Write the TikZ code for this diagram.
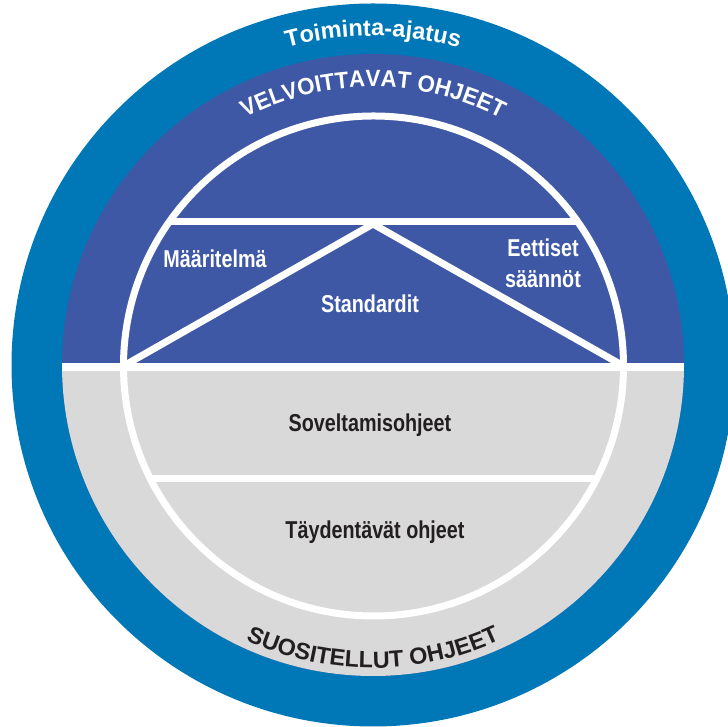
\documentclass[tikz,border=0pt]{standalone}
\usepackage{fontspec}
\newfontfamily\labfont{Liberation Sans}[FakeStretch=0.81]
\newfontfamily\arcfont{Liberation Sans}
\newfontfamily\arcnarrow{Liberation Sans}[FakeStretch=0.95]
\usetikzlibrary{decorations.text}
\definecolor{ringblue}{RGB}{0,120,183}
\definecolor{velpurple}{RGB}{62,88,166}
\definecolor{suogray}{RGB}{217,217,217}
\definecolor{darktext}{RGB}{35,31,32}
\begin{document}
\begin{tikzpicture}[x=1pt,y=1pt,
  lab/.style={font=\labfont\bfseries\fontsize{24.4}{31}\selectfont, inner sep=0pt, anchor=base, align=center},
  sepline/.style={draw=white, line width=7pt},
]
\useasboundingbox (0,0) rectangle (728,727);
\coordinate (C) at (373,362);
\coordinate (W) at (373.5,361);
\begin{scope}
  \clip (0,0) rectangle (728,727);
  \fill[ringblue] (C) circle[radius=361.5];
\end{scope}
% inner disk
\fill[velpurple] (C) circle[radius=311];
\path (C) ++(180:311) coordinate (dl);
\path (C) ++(0:311) coordinate (dr);
\fill[suogray] (dl) arc[start angle=180, end angle=360, radius=311] -- cycle;
\draw[white, line width=8pt] ([yshift=-2pt]dl) -- ([yshift=-2pt]dr);
% inner white circle
\draw[sepline] (W) circle[radius=250];
% upper chord
\path (W) ++(144.83:250) coordinate (ul);
\path (W) ++(35.17:250) coordinate (ur);
\draw[sepline] (ul) -- (ur);
% triangle
\coordinate (apex) at (373,503);
\path (W) ++(180:250) coordinate (tl);
\path (W) ++(0:250) coordinate (tr);
\draw[sepline] (tl) -- (apex) -- (tr);
% lower chord
\path (W) ++(206.62:250) coordinate (ll);
\path (W) ++(-26.62:250) coordinate (lr);
\draw[sepline] (ll) -- (lr);
% curved texts
\path (C) ++(125:329) coordinate (toA);
\path[decorate, decoration={text along path, text align=center,
  text={|\arcfont\bfseries\fontsize{23.5}{28}\selectfont\color{white}|Toiminta-ajatus}}]
  (toA) arc[start angle=125, end angle=55, radius=329];
\path (C) ++(145:278) coordinate (veA);
\path[decorate, decoration={text along path, text align=center,
  text={|\arcnarrow\bfseries\fontsize{23.5}{28}\selectfont\color{white}|VELVOITTAVAT OHJEET}}]
  (veA) arc[start angle=145, end angle=35, radius=278];
\path (C) ++(215:303) coordinate (suA);
\path[decorate, decoration={text along path, text align=center,
  text={|\arcfont\bfseries\fontsize{23.4}{28}\selectfont\color{darktext}|SUOSITELLUT OHJEET}}]
  (suA) arc[start angle=215, end angle=325, radius=303];
% labels
\node[lab, text=white] (maar) at (215,459) {Määritelmä};
\node[lab, text=white] (stan) at (370,414) {Standardit};
\node[lab, text=white] (eett) at (543,439) {Eettiset\\säännöt};
\node[lab, text=darktext] (sove) at (370,295) {Soveltamisohjeet};
\node[lab, text=darktext] (tayd) at (375,188) {Täydentävät ohjeet};
\end{tikzpicture}
\end{document}
